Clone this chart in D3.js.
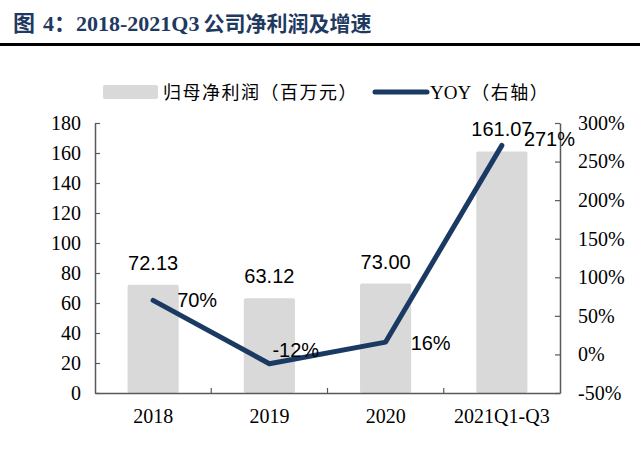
<!DOCTYPE html>
<html><head><meta charset="utf-8">
<script src="https://cdn.jsdelivr.net/npm/d3@7/dist/d3.min.js"></script>
<style>body{margin:0;background:#fff}svg{display:block}</style>
</head><body>
<script>
const categories = ["2018", "2019", "2020", "2021Q1-Q3"];
const profit = [72.13, 63.12, 73.00, 161.07];
const yoy = [70, -12, 16, 271];
const profitLabels = ["72.13", "63.12", "73.00", "161.07"];
const yoyLabels = ["70%", "-12%", "16%", "271%"];
const leftTicks = [0, 20, 40, 60, 80, 100, 120, 140, 160, 180];
const rightTicks = [-50, 0, 50, 100, 150, 200, 250, 300];

const W = 640, H = 454;
const svg = d3.select("body").append("svg").attr("width", W).attr("height", H);
const serif = "'Liberation Serif','Times New Roman',serif";
const cjk = "'Liberation Serif','Noto Sans CJK SC',serif";
const sans = "'Liberation Sans',Arial,sans-serif";
const axisColor = "#595959";
const navy = "#1b3a63";

// Title
const title = svg.append("text").attr("x", 13).attr("y", 31)
  .attr("font-family", cjk).attr("font-weight", "bold").attr("font-size", 22)
  .attr("fill", "#1f3a60");
title.append("tspan").text("图");
title.append("tspan").attr("x", 43).text("4：2018-2021Q3");
title.append("tspan").attr("dx", 4).attr("font-size", 21).text("公司净利润及增速");
svg.append("rect").attr("x", 0).attr("y", 43).attr("width", W).attr("height", 3).attr("fill", "#000");

const L = 95, R = 560, T = 123, B = 393;
const x = d3.scaleBand().domain(categories).range([L, R]).paddingInner(0.56).paddingOuter(0.28);
const yL = d3.scaleLinear().domain([0, 180]).range([B, T]);
const yR = d3.scaleLinear().domain([-50, 300]).range([B, T]);

// Bars
svg.selectAll(".bar").data(profit).join("rect")
  .attr("x", (d, i) => x(categories[i]))
  .attr("y", d => yL(d))
  .attr("width", x.bandwidth())
  .attr("height", d => yL(0) - yL(d))
  .attr("rx", 2)
  .attr("fill", "#d9d9d9");

// Axes
const gL = svg.append("g").attr("transform", `translate(${L},0)`)
  .call(d3.axisLeft(yL).tickValues(leftTicks).tickSizeInner(-5).tickSizeOuter(0).tickPadding(14));
const gR = svg.append("g").attr("transform", `translate(${R},0)`)
  .call(d3.axisRight(yR).tickValues(rightTicks).tickFormat(d => d + "%").tickSizeInner(-5).tickSizeOuter(0).tickPadding(18));
[gL, gR].forEach(g => {
  g.select(".domain").attr("stroke", axisColor).attr("stroke-width", 1.5);
  g.selectAll(".tick line").attr("stroke", axisColor).attr("stroke-width", 1.2);
  g.selectAll(".tick text").attr("font-family", serif).attr("font-size", 20).attr("fill", "#000");
});
// x axis
const gX = svg.append("g").attr("transform", `translate(0,${B})`)
  .call(d3.axisBottom(x).tickSize(0).tickPadding(16));
gX.select(".domain").attr("stroke", axisColor).attr("stroke-width", 1.5);
gX.selectAll(".tick text").attr("font-family", serif).attr("font-size", 20).attr("fill", "#000");
const step = x.step();
const bounds = categories.slice(1).map(c => x(c) - step * x.paddingInner() / 2);
svg.selectAll(".xtick").data(bounds).join("line")
  .attr("x1", d => d).attr("x2", d => d).attr("y1", B).attr("y2", B - 5)
  .attr("stroke", axisColor).attr("stroke-width", 1.2);

// Line
const cx = (i) => x(categories[i]) + x.bandwidth() / 2;
const line = d3.line().x((d, i) => cx(i)).y(d => yR(d));
svg.append("path").datum(yoy).attr("d", line)
  .attr("fill", "none").attr("stroke", navy).attr("stroke-width", 5)
  .attr("stroke-linejoin", "round").attr("stroke-linecap", "round");

// Value labels
svg.selectAll(".vl").data(profit).join("text")
  .attr("x", (d, i) => cx(i)).attr("y", d => yL(d) - 15)
  .attr("text-anchor", "middle").attr("font-family", sans).attr("font-size", 20)
  .attr("fill", "#000").text((d, i) => profitLabels[i]);

// YOY labels
const off = [[24, 7], [3, -7], [25, 8], [22, 1]];
svg.selectAll(".yl").data(yoy).join("text")
  .attr("x", (d, i) => cx(i) + off[i][0]).attr("y", (d, i) => yR(d) + off[i][1])
  .attr("font-family", sans).attr("font-size", 20)
  .attr("fill", "#000").text((d, i) => yoyLabels[i]);

// Legend
svg.append("rect").attr("x", 103).attr("y", 85).attr("width", 55).attr("height", 14).attr("rx", 2).attr("fill", "#d9d9d9");
svg.append("text").attr("x", 163).attr("y", 99).attr("font-family", cjk).attr("font-size", 18)
  .attr("letter-spacing", 1.5).attr("fill", "#000").text("归母净利润（百万元）");
svg.append("line").attr("x1", 375).attr("x2", 427).attr("y1", 92).attr("y2", 92)
  .attr("stroke", navy).attr("stroke-width", 5).attr("stroke-linecap", "round");
const lg2 = svg.append("text").attr("x", 430).attr("y", 99).attr("font-family", cjk).attr("font-size", 18).attr("fill", "#000");
lg2.append("tspan").attr("font-size", 19).text("YOY");
lg2.append("tspan").attr("letter-spacing", 1.5).text("（右轴）");
</script>
</body></html>
